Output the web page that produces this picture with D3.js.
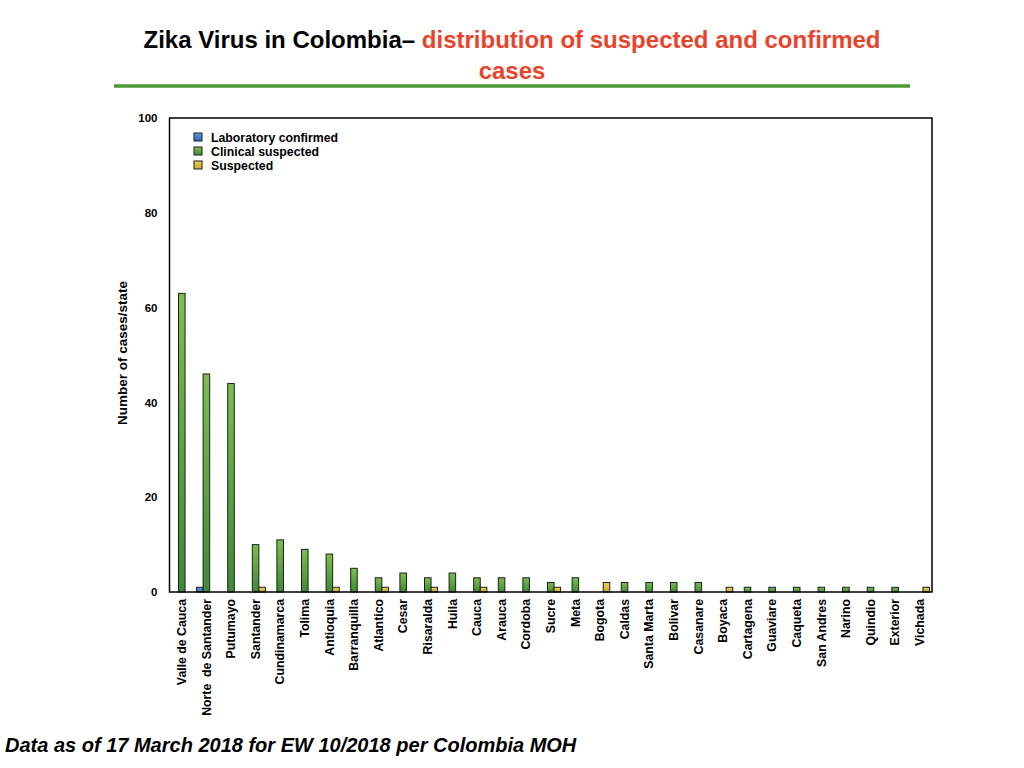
<!DOCTYPE html>
<html>
<head>
<meta charset="utf-8">
<script src="https://cdn.jsdelivr.net/npm/d3@7"></script>
<style>
  body { margin: 0; background: #fff; }
  svg { font-family: "Liberation Sans", Arial, sans-serif; }
</style>
</head>
<body>
<svg id="chart" width="1024" height="768"></svg>
<script>
// states, in order of the x axis
const states = ["Valle de Cauca", "Norte  de Santander", "Putumayo", "Santander", "Cundinamarca",
  "Tolima", "Antioquia", "Barranquilla", "Atlantico", "Cesar", "Risaralda", "Huila", "Cauca",
  "Arauca", "Cordoba", "Sucre", "Meta", "Bogota", "Caldas", "Santa Marta", "Bolivar", "Casanare",
  "Boyaca", "Cartagena", "Guaviare", "Caqueta", "San Andres", "Narino", "Quindio", "Exterior", "Vichada"];

const labConfirmed = [0, 1, 0, 0, 0, 0, 0, 0, 0, 0, 0, 0, 0, 0, 0, 0, 0, 0, 0, 0, 0, 0, 0, 0, 0, 0, 0, 0, 0, 0, 0];
const clinicalSuspected = [63, 46, 44, 10, 11, 9, 8, 5, 3, 4, 3, 4, 3, 3, 3, 2, 3, 0, 2, 2, 2, 2, 0, 1, 1, 1, 1, 1, 1, 1, 0];
const suspected = [0, 0, 0, 1, 0, 0, 1, 0, 1, 0, 1, 0, 1, 0, 0, 1, 0, 2, 0, 0, 0, 0, 1, 0, 0, 0, 0, 0, 0, 0, 1];

const seriesNames = ["Laboratory confirmed", "Clinical suspected", "Suspected"];
const yTicks = [0, 20, 40, 60, 80, 100];

const svg = d3.select("#chart");
const defs = svg.append("defs");

// gradients: light at top, dark at bottom
const grads = [
  {id: "gBlue", top: "#5f9ae6", bottom: "#2f66b8"},
  {id: "gGreen", top: "#7cbf4c", bottom: "#3c8a35"},
  {id: "gYellow", top: "#ecd054", bottom: "#c9a82a"}
];
grads.forEach(g => {
  const lg = defs.append("linearGradient").attr("id", g.id)
    .attr("x1", 0).attr("y1", 0).attr("x2", 0).attr("y2", 1);
  lg.append("stop").attr("offset", "0%").attr("stop-color", g.top);
  lg.append("stop").attr("offset", "100%").attr("stop-color", g.bottom);
});

// title
const title = svg.append("text")
  .attr("x", 512).attr("y", 48)
  .attr("text-anchor", "middle")
  .style("font-size", "24px").style("font-weight", "bold");
title.append("tspan").attr("fill", "#000").text("Zika Virus in Colombia\u2013 ");
title.append("tspan").attr("fill", "#e8432b").text(" distribution of suspected and confirmed");
svg.append("text")
  .attr("x", 512).attr("y", 79)
  .attr("text-anchor", "middle")
  .attr("fill", "#e8432b")
  .style("font-size", "24px").style("font-weight", "bold")
  .text("cases");

svg.append("line")
  .attr("x1", 114).attr("x2", 910)
  .attr("y1", 86).attr("y2", 86)
  .attr("stroke", "#4a9a35").attr("stroke-width", 3.5);

// plot area
const plotL = 169.5, plotR = 932, plotT = 118, plotB = 592;

const x = d3.scaleBand().domain(states).range([plotL, plotR]).paddingInner(0.2).paddingOuter(0.1);
const xs = d3.scaleBand().domain([0, 1, 2]).range([0, x.bandwidth()]);
const y = d3.scaleLinear().domain([0, 100]).range([plotB, plotT]);

const series = [labConfirmed, clinicalSuspected, suspected];
const fills = ["url(#gBlue)", "url(#gGreen)", "url(#gYellow)"];

series.forEach((vals, si) => {
  svg.append("g").selectAll("rect")
    .data(vals.map((v, i) => ({v, s: states[i]})).filter(d => d.v > 0))
    .enter().append("rect")
    .attr("x", d => x(d.s) + xs(si))
    .attr("y", d => y(d.v))
    .attr("width", xs.bandwidth())
    .attr("height", d => y(0) - y(d.v))
    .attr("fill", fills[si])
    .attr("stroke", "#1e1e1e")
    .attr("stroke-width", 1);
});

// frame
svg.append("rect")
  .attr("x", plotL).attr("y", plotT)
  .attr("width", plotR - plotL).attr("height", plotB - plotT)
  .attr("fill", "none").attr("stroke", "#000").attr("stroke-width", 1.5);

// y axis
const yAxis = d3.axisLeft(y).tickValues(yTicks).tickSize(0).tickPadding(12);
const ya = svg.append("g").attr("transform", `translate(${plotL},0)`).call(yAxis);
ya.select(".domain").remove();
ya.selectAll("text").style("font-size", "11.5px").style("font-weight", "bold")
  .style("font-family", "Liberation Sans, Arial, sans-serif").attr("fill", "#000");

svg.append("text")
  .attr("transform", `translate(127,${(plotT + plotB) / 2 - 2}) rotate(-90)`)
  .attr("text-anchor", "middle")
  .style("font-size", "13.5px").style("font-weight", "bold")
  .text("Number of cases/state");

// x axis
const xAxis = d3.axisBottom(x).tickSize(0).tickPadding(0);
const xa = svg.append("g").attr("transform", `translate(0,${plotB})`).call(xAxis);
xa.select(".domain").remove();
xa.selectAll("text")
  .style("font-size", "12.3px").style("font-weight", "bold")
  .style("font-family", "Liberation Sans, Arial, sans-serif")
  .style("white-space", "pre")
  .attr("fill", "#000")
  .attr("text-anchor", "end")
  .attr("y", 0)
  .attr("dy", "0.35em")
  .attr("transform", "translate(0,7) rotate(-90)");

// legend
const legend = svg.append("g").attr("transform", "translate(194,133)");
seriesNames.forEach((n, i) => {
  const g = legend.append("g").attr("transform", `translate(0,${i * 14})`);
  g.append("rect").attr("width", 8).attr("height", 8)
    .attr("fill", fills[i]).attr("stroke", "#1e1e1e").attr("stroke-width", 1);
  g.append("text").attr("x", 17).attr("y", 9)
    .style("font-size", "12.3px").style("font-weight", "bold")
    .text(n);
});

// footnote
svg.append("text")
  .attr("x", 5).attr("y", 752)
  .style("font-size", "20px").style("font-weight", "bold").style("font-style", "italic")
  .text("Data as of 17 March 2018 for EW 10/2018 per Colombia MOH");
</script>
</body>
</html>
